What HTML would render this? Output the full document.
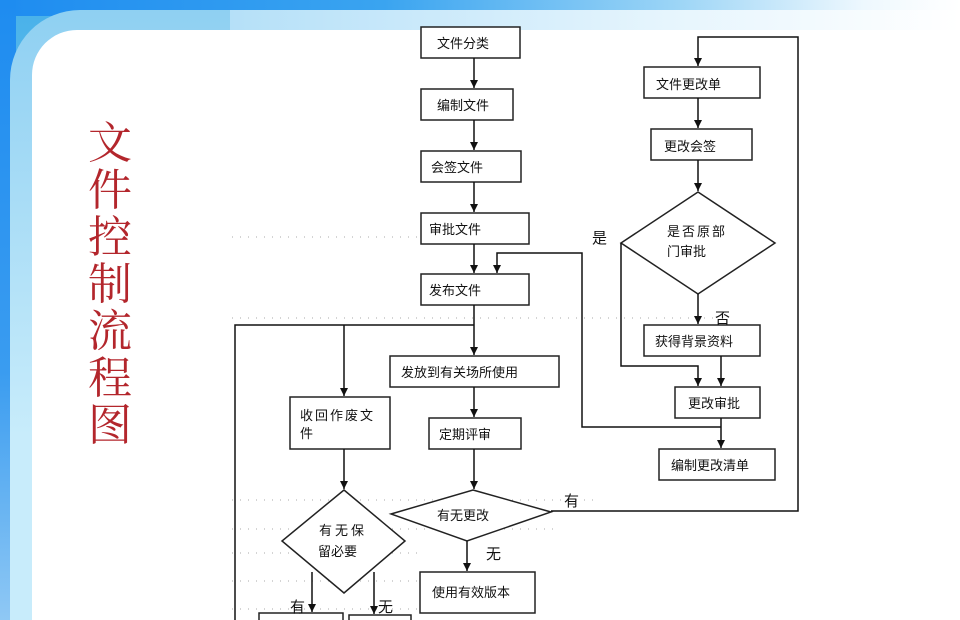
<!DOCTYPE html>
<html><head><meta charset="utf-8"><style>
html,body{margin:0;padding:0;width:960px;height:620px;overflow:hidden;}
body{position:relative;background:#fff;font-family:"Liberation Sans","Noto Sans CJK SC",sans-serif;}
.top{position:absolute;left:0;top:0;width:960px;height:24px;background:linear-gradient(90deg,#1e8cf0 0%,#3aa4f0 40%,#9ad4f6 70%,#eef8fe 90%,#fff 100%);}
.left{position:absolute;left:0;top:0;width:16px;height:620px;background:linear-gradient(180deg,#1e8cf0,#3a9cf0 60%,#8fc8f4);}
.sq{position:absolute;left:16px;top:16px;width:220px;height:604px;background:linear-gradient(180deg,#4ab2ea,#8cd0f2 60%,#cfeefb);}
.p1{position:absolute;left:10px;top:10px;width:950px;height:610px;border-radius:70px 0 0 0;background:linear-gradient(180deg,#8fd0f2,#c8ecfb 70%);}
.p2{position:absolute;left:32px;top:30px;width:928px;height:590px;border-radius:45px 0 0 0;background:#fff;}
.fade{position:absolute;left:230px;top:10px;width:730px;height:20px;background:linear-gradient(90deg,#b5e0f8,#e6f5fd 60%,#fff);}
svg{position:absolute;left:0;top:0;}
</style></head><body>
<div class="top"></div><div class="left"></div><div class="sq"></div><div class="p1"></div><div class="fade"></div><div class="p2"></div>
<svg width="960" height="620" viewBox="0 0 960 620" font-family="Liberation Sans, Noto Sans CJK SC, sans-serif">
<defs><marker id="a" markerWidth="8" markerHeight="8" refX="8" refY="4" orient="auto" markerUnits="userSpaceOnUse"><path d="M0,0 L8,4 L0,8 z" fill="#111"/></marker></defs>
<g fill="#b3262c" font-family="Noto Serif CJK SC, serif" font-size="44">
<text x="88" y="158">文</text><text x="88" y="205">件</text><text x="88" y="252">控</text><text x="88" y="299">制</text><text x="88" y="346">流</text><text x="88" y="393">程</text><text x="88" y="440">图</text>
</g>
<g stroke="#aaa" stroke-width="1" stroke-dasharray="1,7">
<line x1="232" y1="237" x2="421" y2="237"/><line x1="232" y1="318" x2="720" y2="318"/>
<line x1="232" y1="500" x2="600" y2="500"/><line x1="232" y1="529" x2="560" y2="529"/>
<line x1="232" y1="553" x2="420" y2="553"/><line x1="232" y1="581" x2="420" y2="581"/><line x1="232" y1="609" x2="420" y2="609"/>
</g>
<g fill="#fff" stroke="#222" stroke-width="1.5">
<rect x="421" y="27" width="99" height="31"/><rect x="421" y="89" width="92" height="31"/>
<rect x="421" y="151" width="100" height="31"/><rect x="421" y="213" width="108" height="31"/>
<rect x="421" y="274" width="108" height="31"/><rect x="390" y="356" width="169" height="31"/>
<rect x="429" y="418" width="92" height="31"/><rect x="420" y="572" width="115" height="41"/>
<rect x="290" y="397" width="100" height="52"/>
<rect x="259" y="613" width="84" height="12"/><rect x="349" y="615" width="62" height="10"/>
<polygon points="473,490 551,512 467,541 391,514"/>
<polygon points="344,490 405,541 344,593 282,541"/>
<rect x="644" y="67" width="116" height="31"/><rect x="651" y="129" width="101" height="31"/>
<polygon points="698,192 775,243 698,294 621,243"/>
<rect x="644" y="325" width="116" height="31"/><rect x="675" y="387" width="85" height="31"/>
<rect x="659" y="449" width="116" height="31"/>
</g>
<g stroke="#111" stroke-width="1.5" fill="none">
<line x1="474" y1="58" x2="474" y2="88" marker-end="url(#a)"/>
<line x1="474" y1="120" x2="474" y2="150" marker-end="url(#a)"/>
<line x1="474" y1="182" x2="474" y2="212" marker-end="url(#a)"/>
<line x1="474" y1="244" x2="474" y2="273" marker-end="url(#a)"/>
<line x1="474" y1="305" x2="474" y2="355" marker-end="url(#a)"/>
<polyline points="235,620 235,325 474,325"/>
<line x1="344" y1="325" x2="344" y2="396" marker-end="url(#a)"/>
<line x1="474" y1="387" x2="474" y2="417" marker-end="url(#a)"/>
<line x1="474" y1="449" x2="474" y2="489" marker-end="url(#a)"/>
<line x1="467" y1="541" x2="467" y2="571" marker-end="url(#a)"/>
<line x1="344" y1="449" x2="344" y2="489" marker-end="url(#a)"/>
<line x1="312" y1="572" x2="312" y2="612" marker-end="url(#a)"/>
<line x1="374" y1="572" x2="374" y2="614" marker-end="url(#a)"/>
<polyline points="551,511 798,511 798,37 698,37 698,66" marker-end="url(#a)"/>
<line x1="698" y1="98" x2="698" y2="128" marker-end="url(#a)"/>
<line x1="698" y1="160" x2="698" y2="191" marker-end="url(#a)"/>
<line x1="698" y1="294" x2="698" y2="324" marker-end="url(#a)"/>
<polyline points="621,243 621,366 698,366 698,386" marker-end="url(#a)"/>
<line x1="721" y1="356" x2="721" y2="386" marker-end="url(#a)"/>
<line x1="721" y1="418" x2="721" y2="448" marker-end="url(#a)"/>
<polyline points="721,427 582,427 582,253 497,253 497,273" marker-end="url(#a)"/>
</g>
<g fill="#111" font-size="13" font-family="Noto Sans CJK SC, sans-serif">
<text x="437" y="48">文件分类</text><text x="437" y="110">编制文件</text>
<text x="431" y="172">会签文件</text><text x="429" y="234">审批文件</text>
<text x="429" y="295">发布文件</text><text x="401" y="377">发放到有关场所使用</text>
<text x="439" y="439">定期评审</text><text x="437" y="520">有无更改</text>
<text x="432" y="597">使用有效版本</text>
<text x="300" y="420" letter-spacing="2">收回作废文</text><text x="300" y="438">件</text>
<text x="319" y="535" letter-spacing="3">有无保</text><text x="318" y="556">留必要</text>
<text x="656" y="89">文件更改单</text><text x="664" y="151">更改会签</text>
<text x="667" y="236" letter-spacing="2">是否原部</text><text x="667" y="256">门审批</text>
<text x="655" y="346">获得背景资料</text><text x="688" y="408">更改审批</text>
<text x="671" y="470">编制更改清单</text>
</g>
<g fill="#111" font-size="15" font-family="Noto Sans CJK SC, sans-serif">
<text x="592" y="243">是</text><text x="715" y="323">否</text>
<text x="564" y="506">有</text><text x="486" y="559">无</text>
<text x="290" y="612">有</text><text x="378" y="612">无</text>
</g>
</svg>
</body></html>
